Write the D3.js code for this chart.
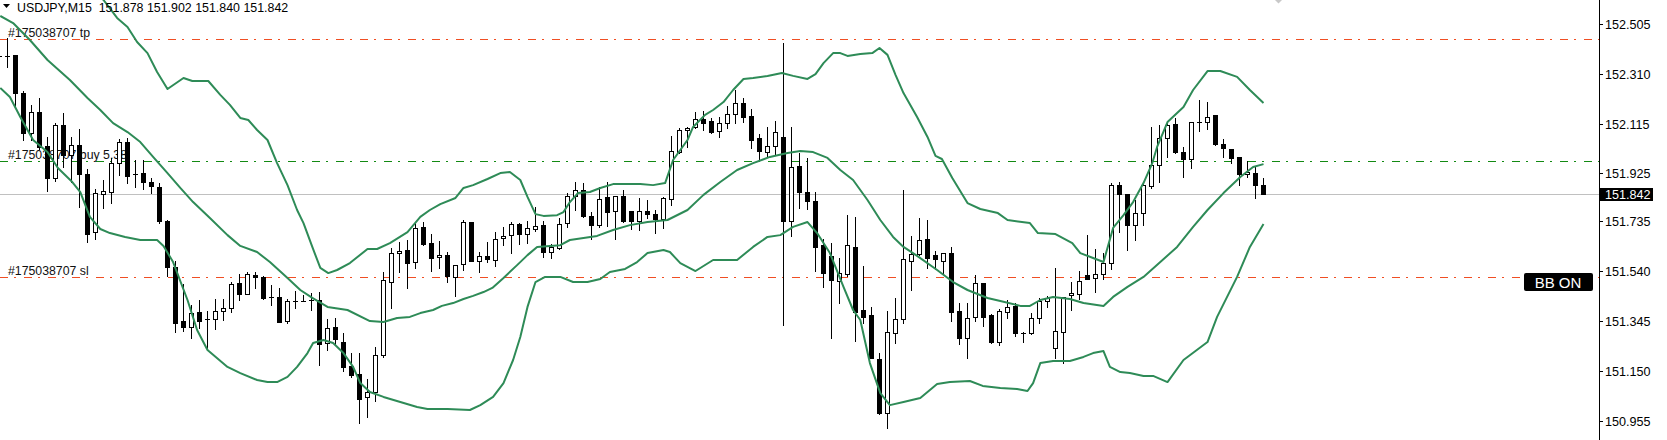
<!DOCTYPE html>
<html>
<head>
<meta charset="utf-8">
<script src="https://cdn.jsdelivr.net/npm/d3@7"></script>
<style>
html,body{margin:0;padding:0;background:#fff;}
svg{display:block;font-family:"Liberation Sans",Arial,sans-serif;}
</style>
</head>
<body>
<svg id="chart" width="1667" height="440"></svg>
<script>
// ---------- DATA ----------
const symbolTitle = "USDJPY,M15  151.878 151.902 151.840 151.842";
const openP = [152.380,152.380,152.384,152.235,152.079,152.161,152.029,151.904,152.110,151.993,152.032,151.919,151.693,151.841,151.849,151.962,152.044,151.919,151.923,151.888,151.869,151.736,151.557,151.346,151.323,151.381,151.354,151.354,151.385,151.397,151.494,151.451,151.525,151.518,151.440,151.440,151.346,151.424,151.424,151.428,151.428,151.260,151.323,151.264,151.171,151.139,151.050,151.069,151.213,151.498,151.611,151.623,151.576,151.713,151.650,151.596,151.603,151.518,151.568,151.732,151.580,151.600,151.584,151.670,151.681,151.724,151.685,151.705,151.720,151.615,151.631,151.728,151.834,151.857,151.756,151.720,151.830,151.775,151.834,151.775,151.736,151.775,151.763,151.744,151.822,152.005,152.091,152.103,152.134,152.126,152.087,152.118,152.153,152.196,152.146,152.060,152.005,152.029,152.064,151.736,151.951,151.849,151.814,151.642,151.600,151.502,151.529,151.635,151.389,151.369,151.198,150.987,151.299,151.354,151.580,151.607,151.666,151.603,151.580,151.611,151.385,151.280,151.362,151.494,151.369,151.264,151.381,151.405,151.299,151.299,151.358,151.424,151.241,151.303,151.447,151.451,151.525,151.514,151.529,151.572,151.876,151.841,151.720,151.767,151.873,151.954,152.060,152.114,152.005,151.978,152.122,152.122,152.149,152.036,152.017,151.986,151.919,151.923,151.878];
const highP = [152.403,152.450,152.384,152.243,152.188,152.216,152.064,152.118,152.157,152.064,152.095,151.939,151.861,151.896,151.982,152.056,152.060,151.974,151.974,151.904,151.884,151.740,151.580,151.490,151.408,151.428,151.385,151.432,151.432,151.498,151.529,151.537,151.537,151.522,151.486,151.475,151.432,151.463,151.447,151.455,151.459,151.354,151.358,151.299,151.221,151.221,151.120,151.245,151.537,151.631,151.654,151.662,151.728,151.732,151.685,151.658,151.615,151.564,151.740,151.732,151.615,151.654,151.693,151.713,151.732,151.728,151.736,151.791,151.736,151.646,151.748,151.845,151.888,151.884,151.771,151.869,151.888,151.834,151.857,151.775,151.826,151.818,151.779,151.830,152.068,152.099,152.103,152.161,152.165,152.138,152.142,152.185,152.247,152.216,152.173,152.075,152.103,152.126,152.430,152.103,152.001,151.982,151.849,151.666,151.650,151.592,151.759,151.752,151.561,151.401,151.221,151.385,151.436,151.857,151.678,151.748,151.740,151.619,151.611,151.635,151.416,151.416,151.525,151.494,151.373,151.393,151.428,151.416,151.303,151.377,151.436,151.444,151.553,151.440,151.498,151.541,151.681,151.627,151.611,151.884,151.888,151.841,151.818,151.888,152.103,152.110,152.122,152.138,152.025,152.122,152.208,152.200,152.149,152.056,152.017,151.986,151.970,151.947,151.902];
const lowP = [152.364,152.337,152.181,152.052,152.052,152.017,151.853,151.892,151.947,151.888,151.791,151.654,151.666,151.787,151.806,151.915,151.884,151.869,151.861,151.845,151.728,151.522,151.303,151.307,151.280,151.319,151.233,151.315,151.350,151.381,151.428,151.451,151.475,151.432,151.408,151.342,151.338,151.397,151.424,151.389,151.174,151.233,151.252,151.151,151.128,150.948,150.972,151.034,151.206,151.397,151.537,151.475,151.553,151.642,151.541,151.553,151.498,151.444,151.545,151.580,151.537,151.576,151.561,151.642,151.611,151.646,151.650,151.697,151.596,151.592,151.627,151.713,151.779,151.752,151.666,151.713,151.717,151.666,151.732,151.705,151.701,151.748,151.689,151.709,151.798,152.001,152.025,152.099,152.091,152.079,152.064,152.099,152.118,152.122,152.021,151.974,151.986,151.997,151.330,151.678,151.787,151.783,151.541,151.479,151.280,151.416,151.522,151.268,151.338,151.202,150.983,150.929,151.260,151.338,151.467,151.603,151.553,151.549,151.529,151.346,151.256,151.202,151.346,151.327,151.260,151.252,151.358,151.288,151.264,151.295,151.338,151.401,151.202,151.182,151.389,151.432,151.510,151.459,151.510,151.549,151.693,151.623,151.662,151.720,151.865,151.888,151.986,152.001,151.908,151.943,152.087,152.095,152.032,151.986,151.962,151.876,151.908,151.826,151.840];
const closeP = [152.381,152.381,152.235,152.079,152.161,152.025,151.904,152.110,151.993,152.032,151.919,151.685,151.845,151.853,151.962,152.044,151.912,151.921,151.888,151.873,151.736,151.557,151.338,151.323,151.377,151.346,151.355,151.385,151.397,151.490,151.451,151.529,151.518,151.436,151.441,151.342,151.424,151.425,151.424,151.428,151.256,151.319,151.276,151.167,151.135,151.042,151.069,151.213,151.506,151.611,151.619,151.572,151.709,151.646,151.592,151.603,151.522,151.564,151.732,151.580,151.600,151.588,151.666,151.678,151.724,151.685,151.709,151.717,151.615,151.635,151.724,151.834,151.857,151.756,151.720,151.822,151.771,151.834,151.736,151.736,151.775,151.763,151.744,151.826,152.009,152.091,152.099,152.134,152.118,152.083,152.118,152.153,152.196,152.142,152.052,152.009,152.029,152.083,151.736,151.947,151.849,151.814,151.635,151.533,151.506,151.533,151.642,151.381,151.362,151.202,150.987,151.303,151.354,151.588,151.607,151.662,151.592,151.588,151.611,151.381,151.280,151.358,151.494,151.362,151.264,151.385,151.401,151.299,151.298,151.358,151.424,151.436,151.307,151.440,151.455,151.502,151.510,151.529,151.572,151.876,151.841,151.720,151.767,151.876,151.954,152.060,152.110,152.005,151.978,152.122,152.122,152.142,152.036,152.021,151.982,151.919,151.927,151.876,151.842];

// Bollinger bands: [bar index, price]
const bandUpper = [[0,153.058],[13.0,152.598],[14.7,152.528],[16.0,152.493],[17.2,152.434],[18.5,152.391],[19.7,152.317],[21.0,152.251],[23.0,152.294],[24.1,152.282],[26.1,152.282],[27.6,152.228],[28.8,152.189],[30.1,152.138],[31.1,152.130],[32.2,152.091],[33.5,152.052],[34.7,151.962],[36.0,151.876],[37.2,151.779],[38.0,151.728],[39.1,151.635],[40.1,151.553],[41.1,151.533],[42.2,151.545],[43.8,151.572],[46.0,151.627],[47.2,151.627],[48.8,151.650],[51.0,151.693],[52.6,151.752],[53.8,151.779],[55.1,151.802],[57.0,151.826],[58.0,151.865],[59.2,151.876],[61.0,151.900],[62.6,151.923],[63.8,151.927],[65.1,151.896],[66.0,151.830],[67.0,151.763],[68.0,151.756],[69.7,151.759],[70.5,151.771],[71.3,151.810],[72.3,151.845],[73.8,151.849],[75.1,151.865],[76.7,151.880],[80.1,151.880],[81.7,151.876],[83.2,151.884],[84.2,151.974],[86.0,152.052],[86.7,152.103],[88.2,152.150],[89.2,152.169],[90.5,152.200],[91.7,152.247],[93.0,152.290],[94.2,152.294],[96.0,152.302],[97.8,152.313],[99.2,152.302],[101.0,152.290],[102.0,152.309],[103.0,152.352],[104.2,152.391],[105.1,152.391],[106.0,152.380],[107.6,152.387],[109.1,152.391],[110.0,152.411],[111.0,152.384],[112.0,152.306],[113.0,152.235],[114.7,152.142],[116.0,152.064],[117.0,151.990],[117.8,151.978],[119.1,151.904],[121.0,151.806],[122.6,151.783],[124.8,151.767],[126.0,151.740],[128.8,151.728],[129.8,151.689],[132.0,151.685],[134.1,151.650],[135.1,151.611],[136.7,151.592],[138.0,151.576],[139.2,151.709],[140.5,151.759],[141.7,151.810],[143.0,151.884],[144.1,151.962],[144.7,152.025],[146.0,152.122],[147.2,152.157],[148.0,152.181],[149.2,152.247],[151.0,152.321],[152.6,152.321],[154.7,152.298],[156.3,152.247],[158.0,152.196]];
const bandMiddle = [[0.1,152.536],[1.7,152.508],[3.8,152.442],[6.0,152.364],[8.8,152.286],[11.0,152.216],[12.6,152.169],[14.2,152.118],[16.0,152.083],[17.6,152.044],[19.2,151.986],[21.0,151.923],[22.6,151.865],[24.2,151.810],[26.3,151.748],[28.5,151.681],[30.1,151.639],[32.2,151.615],[33.8,151.576],[36.0,151.514],[37.6,151.467],[39.1,151.436],[41.0,151.401],[43.5,151.389],[46.3,151.346],[48.0,151.342],[49.7,151.358],[51.3,151.362],[52.6,151.377],[54.2,151.389],[55.3,151.405],[56.7,151.416],[58.0,151.432],[59.2,151.444],[60.5,151.459],[61.6,151.475],[63.0,151.514],[64.7,151.564],[66.0,151.603],[67.2,151.635],[68.8,151.639],[70.1,151.642],[71.3,151.662],[73.0,151.670],[74.7,151.678],[76.7,151.701],[78.8,151.720],[81.0,151.732],[83.5,151.740],[86.0,151.779],[88.0,151.838],[90.1,151.888],[92.2,151.935],[94.2,151.962],[96.3,151.986],[98.5,152.001],[100.1,152.009],[101.7,152.005],[103.5,151.982],[105.1,151.935],[106.7,151.896],[108.5,151.818],[110.1,151.740],[111.7,151.674],[113.0,151.635],[114.7,151.600],[117.2,151.545],[119.2,151.498],[121.0,151.467],[123.5,151.436],[125.1,151.424],[127.6,151.405],[128.8,151.405],[130.1,151.428],[131.7,151.440],[133.8,151.432],[135.5,151.416],[138.0,151.405],[139.2,151.440],[141.0,151.479],[143.0,151.518],[145.1,151.576],[147.2,151.635],[149.2,151.713],[151.0,151.779],[153.0,151.845],[155.1,151.908],[156.7,151.947],[158.0,151.958]];
const bandLower = [[0.1,152.255],[1.3,152.220],[2.6,152.142],[4.2,152.052],[6.0,152.005],[7.3,151.943],[9.1,151.888],[10.1,151.849],[11.3,151.752],[12.6,151.705],[13.8,151.689],[15.7,151.674],[17.6,151.662],[19.7,151.662],[20.5,151.639],[21.7,151.576],[23.5,151.428],[24.7,151.311],[26.0,151.233],[28.5,151.167],[30.1,151.143],[32.2,151.116],[33.5,151.108],[34.7,151.108],[36.0,151.128],[37.2,151.167],[38.5,151.221],[39.2,151.260],[40.5,151.272],[41.7,151.260],[43.0,151.221],[44.2,151.167],[45.1,151.104],[46.3,151.069],[48.0,151.050],[50.1,151.030],[52.2,151.011],[53.5,151.003],[56.0,151.003],[58.8,150.999],[60.1,151.018],[61.7,151.050],[63.0,151.104],[64.2,151.194],[65.1,151.284],[66.0,151.401],[67.0,151.498],[68.2,151.518],[70.1,151.518],[71.7,151.498],[73.5,151.498],[75.1,151.510],[76.3,151.537],[78.2,151.549],[79.7,151.576],[81.0,151.611],[83.0,151.623],[83.8,151.615],[85.1,151.572],[87.0,151.541],[89.2,151.584],[92.2,151.584],[94.2,151.635],[96.0,151.674],[97.6,151.681],[99.2,151.713],[101.0,151.732],[102.2,151.689],[103.8,151.611],[105.5,151.479],[106.7,151.389],[107.6,151.350],[108.8,151.182],[110.1,151.065],[111.3,151.018],[113.0,151.030],[115.1,151.046],[117.2,151.100],[118.8,151.108],[121.3,151.112],[122.9,151.093],[125.1,151.085],[127.2,151.081],[128.5,151.073],[129.2,151.104],[130.1,151.182],[131.7,151.190],[133.8,151.190],[135.5,151.206],[136.7,151.221],[138.0,151.229],[138.8,151.167],[140.1,151.147],[141.3,151.143],[143.0,151.132],[144.2,151.132],[146.0,151.108],[148.0,151.194],[151.0,151.264],[152.2,151.362],[154.7,151.518],[156.3,151.635],[158.0,151.724]];

const yTicks = [152.505,152.310,152.115,151.925,151.735,151.540,151.345,151.150,150.955];
const levelNames = ["#175038707 tp","#175038707 buy 5.38","#175038707 sl"];
const levelPrices = [152.446,151.969,151.517];
const levelKinds = ["tp","buy","sl"];
const bidPrice = 151.842;
const badgeText = "BB ON";

// ---------- LAYOUT ----------
const W = 1667, H = 440, plotRight = 1599;
const svg = d3.select("#chart");
const x = d3.scaleLinear().domain([0, 158]).range([-0.5, 1263.5]);
const y = d3.scaleLinear().domain([150.882, 152.598]).range([H, 0]);

svg.append("rect").attr("width", W).attr("height", H).attr("fill", "#fff");
svg.append("defs").append("clipPath").attr("id","plotClip")
  .append("rect").attr("x",0).attr("y",0).attr("width",plotRight).attr("height",H);

const plot = svg.append("g").attr("clip-path","url(#plotClip)");

// Bid line
const py = v => Math.round(y(v)) + 0.5;
plot.append("line").attr("x1",0).attr("x2",plotRight).attr("y1",py(bidPrice)).attr("y2",py(bidPrice))
  .attr("stroke","#c0c0c0").attr("stroke-width",1).attr("shape-rendering","crispEdges");

// trade levels
const levelColor = {tp:"#f04e23", sl:"#f04e23", buy:"#138a13"};
levelPrices.forEach((p,i)=>{
  plot.append("line").attr("x1",0).attr("x2",plotRight).attr("y1",py(p)).attr("y2",py(p))
    .attr("stroke",levelColor[levelKinds[i]]).attr("stroke-width",1)
    .attr("stroke-dasharray","8,6,2,8").attr("shape-rendering","crispEdges");
  plot.append("text").attr("x",8).attr("y",Math.round(y(p)) - 2.5)
    .attr("font-size",12.3).attr("fill","#111").text(levelNames[i]);
});

// candles
const cg = plot.append("g").attr("shape-rendering","crispEdges");
openP.forEach((o,i)=>{
  const c = Math.floor(x(i));
  const h = highP[i], l = lowP[i], cl = closeP[i];
  const yh = Math.round(y(h)), yl = Math.round(y(l));
  const yTop = Math.round(y(Math.max(o,cl))), yBot = Math.round(y(Math.min(o,cl)));
  cg.append("line").attr("x1",c+0.5).attr("x2",c+0.5).attr("y1",yh).attr("y2",yl+1)
    .attr("stroke","#000").attr("stroke-width",1);
  if (yBot - yTop < 1) {
    cg.append("rect").attr("x",c-2).attr("y",yTop).attr("width",5).attr("height",1).attr("fill","#000");
  } else if (cl >= o) {
    cg.append("rect").attr("x",c-1.5).attr("y",yTop+0.5).attr("width",4).attr("height",yBot-yTop)
      .attr("fill","#fff").attr("stroke","#000").attr("stroke-width",1);
  } else {
    cg.append("rect").attr("x",c-2).attr("y",yTop).attr("width",5).attr("height",yBot-yTop+1).attr("fill","#000");
  }
});

// Bollinger bands
const line = d3.line().x(d=>x(d[0])).y(d=>y(d[1]));
[bandUpper, bandMiddle, bandLower].forEach(b=>{
  plot.append("path").attr("d", line(b)).attr("fill","none")
    .attr("stroke","#2e8b57").attr("stroke-width",2).attr("stroke-linejoin","round");
});

// header
svg.append("path").attr("d","M3,4 L10,4 L6.5,8 Z").attr("fill","#000");
svg.append("text").attr("x",17).attr("y",11.5).attr("font-size",12.4).attr("fill","#000")
  .attr("xml:space","preserve").style("white-space","pre").text(symbolTitle);
// shift marker
svg.append("path").attr("d","M1275,0 L1282,0 L1278.5,3.5 Z").attr("fill","#c8c8c8");

// right axis
svg.append("line").attr("x1",plotRight+0.5).attr("x2",plotRight+0.5).attr("y1",0).attr("y2",H)
  .attr("stroke","#000").attr("shape-rendering","crispEdges");
const axis = svg.append("g");
yTicks.forEach(t=>{
  const ty = Math.round(y(t)) + 0.5;
  axis.append("line").attr("x1",plotRight).attr("x2",plotRight+4).attr("y1",ty).attr("y2",ty)
    .attr("stroke","#000").attr("shape-rendering","crispEdges");
  axis.append("text").attr("x",1605).attr("y",ty+4.5).attr("font-size",12.6).attr("fill","#000")
    .text(d3.format(".3f")(t));
});
// bid label
const by = Math.round(y(bidPrice));
svg.append("rect").attr("x",1600).attr("y",by-6).attr("width",53).attr("height",13).attr("fill","#000");
svg.append("text").attr("x",1605).attr("y",by+4.5).attr("font-size",12.6).attr("fill","#fff").text(d3.format(".3f")(bidPrice));

// BB ON badge
svg.append("rect").attr("x",1524).attr("y",273).attr("width",69).attr("height",18).attr("rx",2).attr("fill","#000");
svg.append("text").attr("x",1558).attr("y",288).attr("text-anchor","middle").attr("font-size",15)
  .attr("fill","#fff").text(badgeText);
</script>
</body>
</html>
